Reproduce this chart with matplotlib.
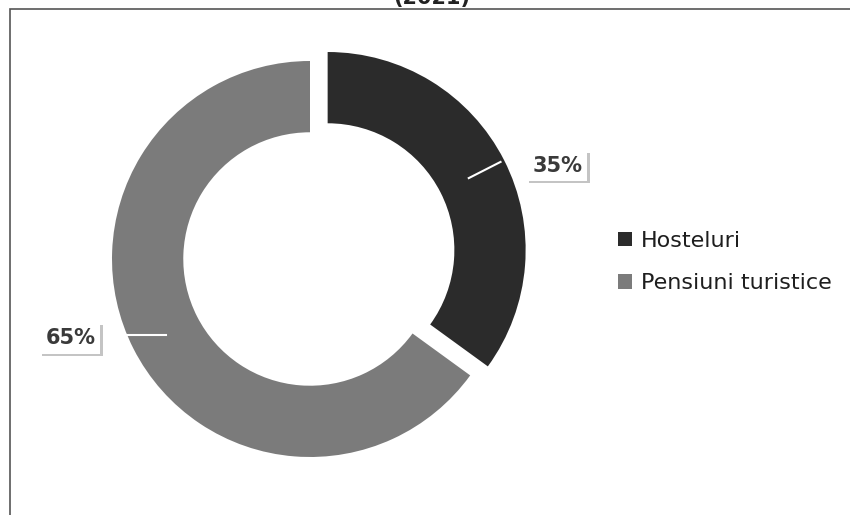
import matplotlib.pyplot as plt
import matplotlib.patheffects as pe
import numpy as np

# data
labels = ['Hosteluri', 'Pensiuni turistice']
shares = [35, 65]
colors = ['#2b2b2b', '#7b7b7b']
title = '(2021)'

W, H = 850, 515
fig = plt.figure(figsize=(W / 100, H / 100), dpi=100)
ax = fig.add_axes([0, 0, 1, 1])

explode = [0.1, 0]
wedges, _ = ax.pie(shares, colors=colors, startangle=90, counterclock=False,
                   explode=explode, radius=1.0,
                   wedgeprops=dict(width=0.36, edgecolor='none'))

# pixel -> data mapping: pie centre at (310, 259) px, radius 198 px
cx, cy, R = 310, 259, 198
ax.set_xlim(-cx / R, (W - cx) / R)
ax.set_ylim(-(H - cy) / R, cy / R)
ax.axis('off')

# outer frame (only left/top visible in the crop)
fig.patches.append(plt.Rectangle((10 / W, -0.05), 1.1, 1.05 - 9 / H,
                                 transform=fig.transFigure, fill=False,
                                 edgecolor='#555555', lw=1.2))

# title cut by the top edge
fig.text(432 / W, 1 - 4 / H, title, ha='center', va='baseline',
         fontsize=15, fontweight='bold', color='#222222')


def pct_label(x, y, txt, ha):
    t = ax.text(x, y, txt, ha=ha, va='center', fontsize=15, fontweight='bold',
                color='#3a3a3a', zorder=4,
                bbox=dict(boxstyle='square,pad=0.25', fc='white', ec='none'))
    t.get_bbox_patch().set_path_effects([
        pe.SimplePatchShadow(offset=(1.5, -1.5), shadow_rgbFace='#c4c4c4', alpha=1),
        pe.Normal()])


# label for the exploded slice
w0 = wedges[0]
mid0 = np.deg2rad((w0.theta1 + w0.theta2) / 2)
ox, oy = w0.center
p1 = (ox + 0.80 * np.cos(mid0), oy + 0.80 * np.sin(mid0))
p2 = (ox + 0.98 * np.cos(mid0), oy + 0.98 * np.sin(mid0))
ax.plot([p1[0], p2[0]], [p1[1], p2[1]], color='white', lw=1.5, zorder=5)
pct_label(p2[0] + 0.16, p2[1] - 0.02, f'{shares[0]}%', 'left')

# label for the other slice: horizontal leader line
w1 = wedges[1]
mid1 = np.deg2rad((w1.theta1 + w1.theta2) / 2)
ly = 0.84 * np.sin(mid1)
lx0 = 0.84 * np.cos(mid1)
lx1 = -np.sqrt(1 - ly ** 2)
ax.plot([lx0 + 0.02, lx1], [ly, ly], color='white', lw=1.5, zorder=5)
pct_label(lx1 - 0.16, ly - 0.02, f'{shares[1]}%', 'right')

leg = ax.legend(wedges, labels, loc='center left',
                bbox_to_anchor=(598 / W, 1 - 262 / H), frameon=False,
                fontsize=16, handlelength=0.65, handleheight=0.65,
                handletextpad=0.4, labelspacing=1.0)
for t in leg.get_texts():
    t.set_color('#1e1e1e')

fig.savefig('out.png', dpi=100)
